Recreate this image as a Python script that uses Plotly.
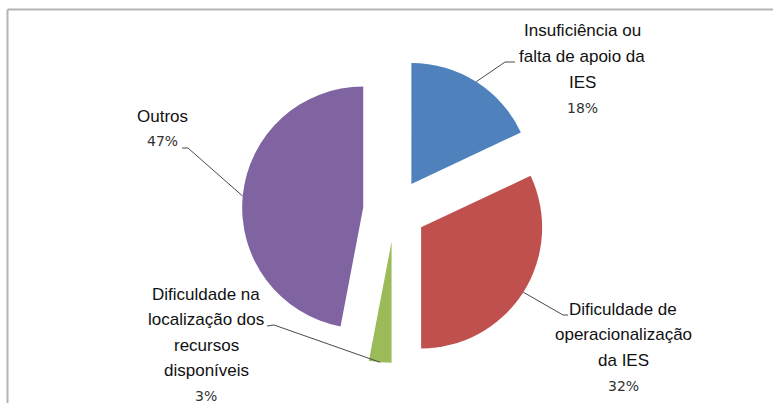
import math
import plotly.graph_objects as go

# ---- data ----
categories = [
    "Insuficiência ou falta de apoio da IES",
    "Dificuldade de operacionalização da IES",
    "Dificuldade na localização dos recursos disponíveis",
    "Outros",
]
values = [18, 32, 3, 47]
label_lines = [
    ["Insuficiência ou", "falta de apoio da", "IES"],
    ["Dificuldade de", "operacionalização", "da IES"],
    ["Dificuldade na", "localização dos", "recursos", "disponíveis"],
    ["Outros"],
]
colors = ["#4F81BD", "#C0504D", "#9BBB59", "#8064A2"]
pulls = [0.26, 0.26, 0.26, 0.26]

# ---- layout geometry (pixels) ----
W, H = 773, 403
dom_x = [0.2504, 0.7704]
dom_y = [0.0993, 0.8561]

# label placement: (center x, first line y), line spacing
label_pos = [(582, 31), (623, 309), (206, 294), (162, 116)]
line_gap = 25.5
# leader elbow points (near label) – from label side toward slice
elbows = [
    [(515, 62), (505, 62)],
    [(568, 315), (563, 315)],
    [(267, 326), (274, 325)],
    [(182, 148), (188, 148)],
]


def px(x):
    return x / W


def py(y):
    return 1 - y / H


# pie geometry as plotly computes it
max_pull = max(pulls)
availW = W * (dom_x[1] - dom_x[0])
availH = H * (dom_y[1] - dom_y[0])
r = min(availW, availH) / (2 + 2 * max_pull)
cx = W * (dom_x[0] + dom_x[1]) / 2
cy = H * (2 - dom_y[0] - dom_y[1]) / 2
total = sum(values)

fig = go.Figure(
    go.Pie(
        labels=categories,
        values=values,
        marker=dict(colors=colors, line=dict(width=0)),
        pull=pulls,
        sort=False,
        direction="clockwise",
        rotation=0,
        textinfo="none",
        showlegend=False,
        domain=dict(x=dom_x, y=dom_y),
    )
)

shapes = []
annotations = []
cum = 0
for i, v in enumerate(values):
    mid = math.radians(360 * (cum + v / 2) / total)
    cum += v
    d = (1 + pulls[i]) * r
    tx = cx + d * math.sin(mid)
    ty = cy - d * math.cos(mid)
    pts = elbows[i] + [(tx, ty)]
    path = "M " + " L ".join(f"{px(x):.5f},{py(y):.5f}" for x, y in pts)
    shapes.append(dict(type="path", path=path, xref="paper", yref="paper",
                       line=dict(color="#4a4a4a", width=1)))
    lx, ly = label_pos[i]
    lines = label_lines[i]
    for j, t in enumerate(lines):
        annotations.append(dict(
            x=px(lx), y=py(ly + j * line_gap), xref="paper", yref="paper",
            text=t, showarrow=False, xanchor="center", yanchor="middle",
            font=dict(family="Liberation Sans, Arial, sans-serif", size=17, color="#111111"),
        ))
    pct = round(100 * v / total)
    annotations.append(dict(
        x=px(lx), y=py(ly + len(lines) * line_gap), xref="paper", yref="paper",
        text=f"{pct}%", showarrow=False, xanchor="center", yanchor="middle",
        font=dict(family="DejaVu Sans, Verdana, sans-serif", size=14, color="#333333"),
    ))

# chart frame (top and left edges visible)
shapes.append(dict(type="line", xref="paper", yref="paper",
                   x0=px(7.5), y0=py(9.5), x1=1.01, y1=py(9.5),
                   line=dict(color="#b4b4b4", width=2)))
shapes.append(dict(type="line", xref="paper", yref="paper",
                   x0=px(7.5), y0=py(9.5), x1=px(7.5), y1=-0.01,
                   line=dict(color="#b4b4b4", width=2)))

fig.update_layout(
    width=W, height=H,
    margin=dict(l=0, r=0, t=0, b=0),
    paper_bgcolor="white",
    plot_bgcolor="white",
    shapes=shapes,
    annotations=annotations,
)

fig.write_html("out.html")
